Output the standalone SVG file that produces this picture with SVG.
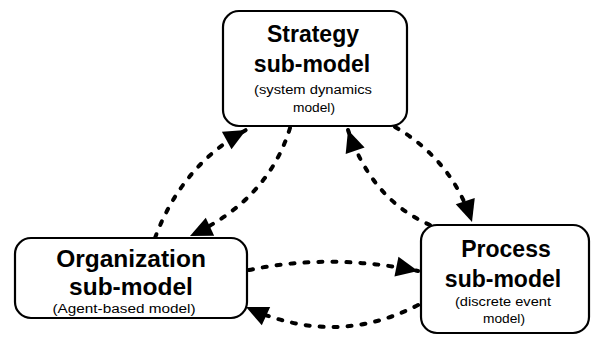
<svg xmlns="http://www.w3.org/2000/svg" width="592" height="337" viewBox="0 0 592 337">
<style>
.box{fill:#fff;stroke:#000;stroke-width:2.2}
.t{font-family:"Liberation Sans",Arial,sans-serif;font-weight:bold;fill:#000;text-anchor:middle}
.s{font-family:"Liberation Sans",Arial,sans-serif;fill:#000;text-anchor:middle;font-size:12.5px}
.c{fill:none;stroke:#000;stroke-width:4;stroke-dasharray:4 10;stroke-linecap:round}
</style>
<defs>
<marker id="ah" markerUnits="userSpaceOnUse" markerWidth="26" markerHeight="22" refX="22" refY="11" orient="auto" overflow="visible">
<path d="M0,1 L22,11 L0,21 Z" fill="#000"/>
</marker>
</defs>
<g id="connectors">
<path class="c" d="M155,238 Q182,165 246,130" marker-end="url(#ah)"/>
<path class="c" d="M290,128 Q268,200 190,236" marker-end="url(#ah)"/>
<path class="c" d="M395,127 Q452,160 472,222" marker-end="url(#ah)"/>
<path class="c" d="M430,225 Q372,200 348,130" marker-end="url(#ah)"/>
<path class="c" d="M249,270 Q330,253 418,271" marker-end="url(#ah)"/>
<path class="c" d="M418,305 Q335,348 246,307" marker-end="url(#ah)"/>
</g>
<g id="strategy">
<rect class="box" x="223" y="11" width="184" height="115" rx="16"/>
<text class="t" x="313" y="42" font-size="23">Strategy</text>
<text class="t" x="312" y="72" font-size="23">sub-model</text>
<text class="s" x="313" y="94" textLength="118" lengthAdjust="spacingAndGlyphs">(system dynamics</text>
<text class="s" x="314" y="112" textLength="42" lengthAdjust="spacingAndGlyphs">model)</text>
</g>
<g id="organization">
<rect class="box" x="15" y="238" width="232" height="80" rx="16"/>
<text class="t" x="131" y="267" font-size="24.5">Organization</text>
<text class="t" x="131" y="295" font-size="24.5">sub-model</text>
<text class="s" x="124" y="313" textLength="143" lengthAdjust="spacingAndGlyphs">(Agent-based model)</text>
</g>
<g id="process">
<rect class="box" x="421" y="225" width="168" height="108" rx="16"/>
<text class="t" x="506" y="257" font-size="23">Process</text>
<text class="t" x="503" y="287" font-size="23">sub-model</text>
<text class="s" x="503" y="306" textLength="96" lengthAdjust="spacingAndGlyphs">(discrete event</text>
<text class="s" x="504" y="323" textLength="42" lengthAdjust="spacingAndGlyphs">model)</text>
</g>
</svg>
